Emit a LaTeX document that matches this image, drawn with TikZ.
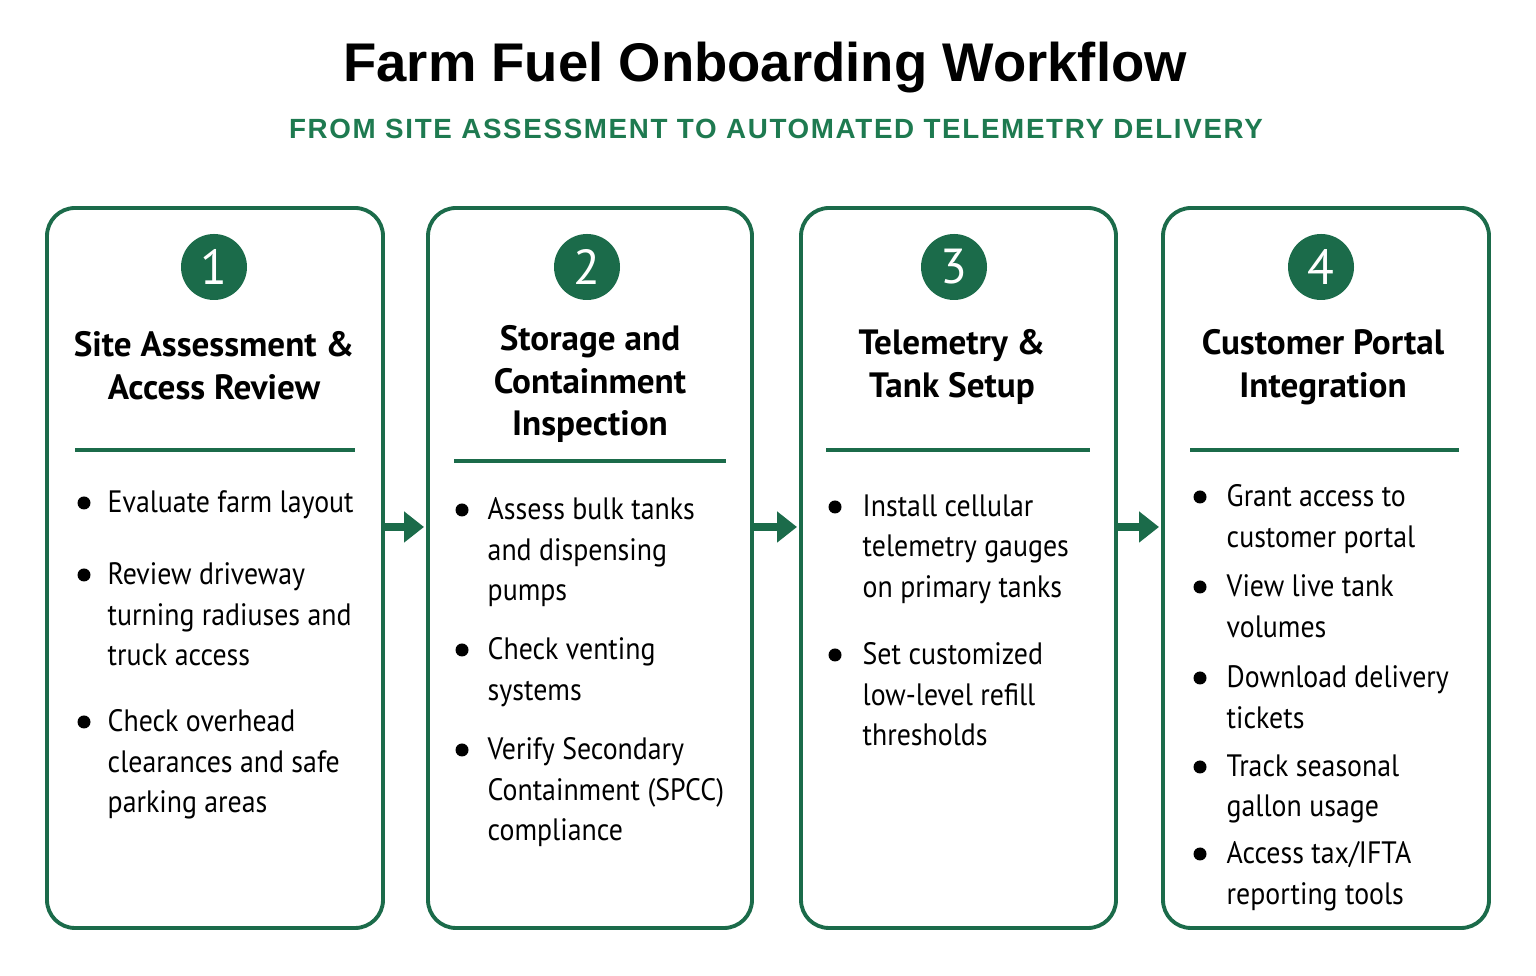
\documentclass[tikz,border=0pt]{standalone}
\usepackage{fontspec}
\setmainfont{PT Sans}
\newfontfamily\headfont{Liberation Sans}
\newfontfamily\itemfont[FakeStretch=0.9]{PT Sans}
\usetikzlibrary{arrows.meta}
\definecolor{farmgreen}{HTML}{1B6B4A}
\definecolor{subgreen}{HTML}{1E7A50}
\tikzset{
  stepbox/.style={draw=farmgreen, line width=1.1pt, rounded corners=0.28cm},
  stepnum/.style={circle, fill=farmgreen, minimum size=0.66cm, inner sep=0pt,
    text=white, font=\fontsize{14}{14}\selectfont},
  steptitle/.style={align=center, font=\fontsize{10}{12.2}\selectfont\bfseries, inner sep=0pt},
  stepitem/.style={anchor=north west, align=left, inner sep=0pt,
    font=\itemfont\fontsize{8.8}{11.5}\selectfont},
  steprule/.style={draw=farmgreen, line width=0.9pt},
  steparrow/.style={draw=farmgreen, line width=2.4pt, -{Triangle[length=0.2cm,width=0.3cm]}}
}
\newcommand{\bdot}[2]{\fill[black] (#1,#2) circle (0.065cm);}
\begin{document}
\begin{tikzpicture}
\useasboundingbox (0,0) rectangle (15.36,9.76);
% heading
\node[font=\headfont\fontsize{15.5}{16}\selectfont\bfseries] (heading) at (7.65,9.08) {Farm Fuel Onboarding Workflow};
\node[font=\headfont\fontsize{7.9}{9}\selectfont\bfseries, text=subgreen] (subhead) at (7.76,8.47)
  {\addfontfeatures{LetterSpace=6}FROM SITE ASSESSMENT TO AUTOMATED TELEMETRY DELIVERY};
% boxes
\draw[stepbox] (0.47,0.48) rectangle (3.83,7.68);
\draw[stepbox] (4.28,0.48) rectangle (7.52,7.68);
\draw[stepbox] (8.01,0.48) rectangle (11.16,7.68);
\draw[stepbox] (11.63,0.48) rectangle (14.89,7.68);
\coordinate (e1) at (3.85,4.49);
\coordinate (w2) at (4.24,4.49);
\coordinate (e2) at (7.54,4.49);
\coordinate (w3) at (7.97,4.49);
\coordinate (e3) at (11.18,4.49);
\coordinate (w4) at (11.59,4.49);
\draw[steparrow] (e1) -- (w2);
\draw[steparrow] (e2) -- (w3);
\draw[steparrow] (e3) -- (w4);
%STEP 1:
\node[stepnum] (n1) at (2.14,7.09) {1};
\node[steptitle] (t1) at (2.14,6.10) {Site Assessment \&\\Access Review};
\draw[steprule] (0.75,5.26) -- (3.55,5.26);
\bdot{0.84}{4.73}\node[stepitem] (i11) at (1.07,4.86) {Evaluate farm layout};
\bdot{0.84}{4.01}\node[stepitem] (i12) at (1.07,4.14) {Review driveway\\turning radiuses and\\truck access};
\bdot{0.84}{2.54}\node[stepitem] (i13) at (1.07,2.67) {Check overhead\\clearances and safe\\parking areas};
%STEP 2:
\node[stepnum] (n2) at (5.87,7.09) {2};
\node[steptitle] (t2) at (5.90,5.92) {Storage and\\Containment\\Inspection};
\draw[steprule] (4.54,5.15) -- (7.26,5.15);
\bdot{4.62}{4.66}\node[stepitem] (i21) at (4.87,4.79) {Assess bulk tanks\\and dispensing\\pumps};
\bdot{4.62}{3.26}\node[stepitem] (i22) at (4.87,3.39) {Check venting\\systems};
\bdot{4.62}{2.26}\node[stepitem] (i23) at (4.87,2.39) {Verify Secondary\\Containment (SPCC)\\compliance};
%STEP 3:
\node[stepnum] (n3) at (9.54,7.09) {3};
\node[steptitle] (t3) at (9.52,6.09) {Telemetry \&\\Tank Setup};
\draw[steprule] (8.26,5.26) -- (10.90,5.26);
\bdot{8.35}{4.69}\node[stepitem] (i31) at (8.62,4.82) {Install cellular\\telemetry gauges\\on primary tanks};
\bdot{8.35}{3.21}\node[stepitem] (i32) at (8.62,3.34) {Set customized\\low-level refill\\thresholds};
%STEP 4:
\node[stepnum] (n4) at (13.21,7.09) {4};
\node[steptitle] (t4) at (13.23,6.09) {Customer Portal\\Integration};
\draw[steprule] (11.90,5.26) -- (14.59,5.26);
\bdot{12.00}{4.79}\node[stepitem] (i41) at (12.26,4.92) {Grant access to\\customer portal};
\bdot{12.00}{3.89}\node[stepitem] (i42) at (12.26,4.02) {View live tank\\volumes};
\bdot{12.00}{2.98}\node[stepitem] (i43) at (12.26,3.11) {Download delivery\\tickets};
\bdot{12.00}{2.09}\node[stepitem] (i44) at (12.26,2.22) {Track seasonal\\gallon usage};
\bdot{12.00}{1.22}\node[stepitem] (i45) at (12.26,1.35) {Access tax/IFTA\\reporting tools};
\end{tikzpicture}
\end{document}
